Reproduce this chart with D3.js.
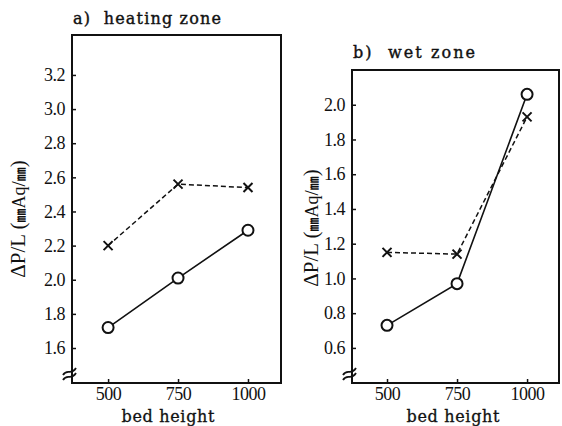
<!DOCTYPE html>
<html>
<head>
<meta charset="utf-8">
<script src="https://cdn.jsdelivr.net/npm/d3@7"></script>
<style>
  body { margin: 0; background: #fff; }
  svg { display: block; }
  .tick text { font-family: "Liberation Serif", serif; font-size: 18px; fill: #111; letter-spacing: -0.5px; }
</style>
</head>
<body>
<div id="chart"></div>
<script>
// bed height categories
const bedHeight = [500, 750, 1000];

// a) heating zone
const heatCircle = [1.72, 2.01, 2.29];
const heatCross = [2.20, 2.56, 2.54];
const heatTicks = [1.6, 1.8, 2.0, 2.2, 2.4, 2.6, 2.8, 3.0, 3.2];

// b) wet zone
const wetCircle = [0.73, 0.97, 2.06];
const wetCross = [1.15, 1.14, 1.93];
const wetTicks = [0.6, 0.8, 1.0, 1.2, 1.4, 1.6, 1.8, 2.0];

const xTicks = [500, 750, 1000];

const svg = d3.select("#chart").append("svg")
  .attr("width", 562).attr("height", 426);

// draw one panel
function panel(opt) {
  const x = d3.scaleLinear().domain(opt.xDom).range([opt.left, opt.right]);
  const y = d3.scaleLinear().domain(opt.yDom).range([opt.bottom, opt.top]);
  const g = svg.append("g");

  // y axis, ticks inward
  g.append("g")
    .attr("transform", `translate(${opt.left},0)`)
    .call(d3.axisLeft(y).tickValues(opt.yTicks).tickFormat(d3.format(".1f")).tickSizeInner(-4).tickSizeOuter(0).tickPadding(7))
    .call(a => a.select(".domain").remove())
    .call(a => a.selectAll("line").attr("stroke", "#111").attr("stroke-width", 1.5));

  // x axis, ticks inward
  g.append("g")
    .attr("transform", `translate(0,${opt.bottom})`)
    .call(d3.axisBottom(x).tickValues(xTicks).tickFormat(d3.format("d")).tickSizeInner(-4).tickSizeOuter(0).tickPadding(4))
    .call(a => a.select(".domain").remove())
    .call(a => a.selectAll("line").attr("stroke", "#111").attr("stroke-width", 1.5));

  // frame
  g.append("rect")
    .attr("x", opt.left).attr("y", opt.top)
    .attr("width", opt.right - opt.left).attr("height", opt.bottom - opt.top)
    .attr("fill", "none").attr("stroke", "#111").attr("stroke-width", 2);

  // axis break mark
  const by = opt.bottom - 13;
  [0, 5].forEach(off => {
    g.append("path")
      .attr("d", `M${opt.left - 9},${by + 5 + off} C${opt.left - 5},${by - 2 + off} ${opt.left - 1},${by + 6 + off} ${opt.left + 4},${by - 2 + off}`)
      .attr("fill", "none").attr("stroke", "#111").attr("stroke-width", 1.8);
  });

  const line = d3.line().x((d, i) => x(bedHeight[i])).y(d => y(d));

  g.append("path").datum(opt.cross)
    .attr("d", line).attr("fill", "none")
    .attr("stroke", "#111").attr("stroke-width", 1.5).attr("stroke-dasharray", "5,3");

  g.append("path").datum(opt.circle)
    .attr("d", line).attr("fill", "none")
    .attr("stroke", "#111").attr("stroke-width", 1.6);

  g.selectAll(".cross").data(opt.cross).enter().append("path")
    .attr("class", "cross")
    .attr("d", (d, i) => {
      const cx = x(bedHeight[i]), cy = y(d), s = 4.5;
      return `M${cx - s},${cy - s}L${cx + s},${cy + s}M${cx - s},${cy + s}L${cx + s},${cy - s}`;
    })
    .attr("stroke", "#111").attr("stroke-width", 2);

  g.selectAll(".circ").data(opt.circle).enter().append("circle")
    .attr("class", "circ")
    .attr("cx", (d, i) => x(bedHeight[i])).attr("cy", d => y(d)).attr("r", 5.5)
    .attr("fill", "#fff").attr("stroke", "#111").attr("stroke-width", 2);

  // title
  g.append("text")
    .attr("x", opt.left + 1).attr("y", opt.titleY)
    .attr("font-family", "DejaVu Serif, serif").attr("font-size", 16)
    .attr("textLength", opt.titleLen).attr("lengthAdjust", "spacing")
    .attr("fill", "#111").attr("stroke", "#111").attr("stroke-width", 0.4)
    .attr("xml:space", "preserve")
    .text(opt.title);

  // x label
  g.append("text")
    .attr("x", opt.xLabelX).attr("y", 422)
    .attr("text-anchor", "middle")
    .attr("font-family", "DejaVu Serif, serif").attr("font-size", 16)
    .attr("textLength", 93).attr("lengthAdjust", "spacing")
    .attr("fill", "#111").attr("stroke", "#111").attr("stroke-width", 0.3)
    .text("bed height");

  // y label
  const yl = g.append("text")
    .attr("transform", `translate(${opt.yLabelX},${opt.yLabelY}) rotate(-90)`)
    .attr("text-anchor", "middle")
    .attr("font-family", "Liberation Serif, serif").attr("font-size", 21)
    .attr("fill", "#111");
  yl.append("tspan").text("\u0394P/L (");
  yl.append("tspan").attr("font-family", "Noto Sans CJK JP").attr("font-size", 14).attr("font-weight", "bold").text("\u339C");
  yl.append("tspan").attr("font-size", 18).text("Aq");
  yl.append("tspan").attr("font-size", 19).text("/");
  yl.append("tspan").attr("font-family", "Noto Sans CJK JP").attr("font-size", 14).attr("font-weight", "bold").text("\u339C");
  yl.append("tspan").text(")");
}

panel({
  left: 72, right: 281, top: 35, bottom: 383,
  xDom: [371, 1118], yDom: [1.395, 3.434],
  yTicks: heatTicks, circle: heatCircle, cross: heatCross,
  title: "a)  heating zone", titleY: 24, titleLen: 148,
  xLabelX: 168, yLabelX: 25, yLabelY: 219
});

panel({
  left: 352, right: 559, top: 70, bottom: 383,
  xDom: [375, 1114], yDom: [0.398, 2.20],
  yTicks: wetTicks, circle: wetCircle, cross: wetCross,
  title: "b)  wet zone", titleY: 58, titleLen: 122,
  xLabelX: 453, yLabelX: 318, yLabelY: 228
});
</script>
</body>
</html>
